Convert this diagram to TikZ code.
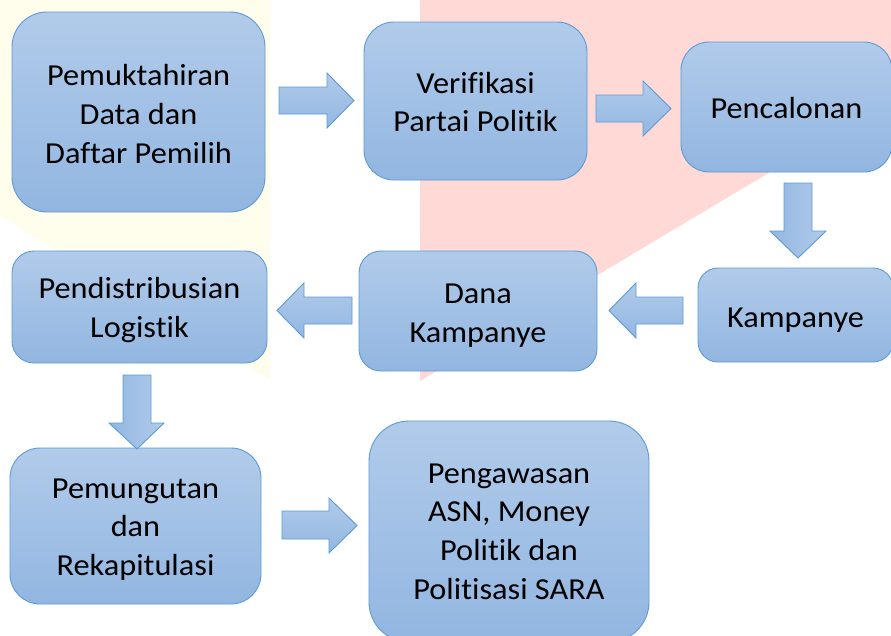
\documentclass[tikz,border=0pt]{standalone}
\usepackage{fontspec}
\setmainfont{Carlito}[Ligatures={NoCommon,NoContextual}, FakeStretch=1.06]
\definecolor{boxtop}{HTML}{B1CBEA}
\definecolor{boxbot}{HTML}{92B6E1}
\definecolor{boxline}{HTML}{5B9BD5}
\definecolor{bgyellow}{HTML}{FFFDEC}
\definecolor{bgpink}{HTML}{FFD9D5}
\newcommand\topstrut[1]{\rule{0pt}{#1}}
\begin{document}
\begin{tikzpicture}[x=1pt,y=-1pt,
  box/.style={draw=boxline, line width=0.9pt, rounded corners=#1,
    top color=boxtop, bottom color=boxbot, align=center, inner sep=0pt,
    font=\fontsize{30.5}{38.7}\selectfont},
  barrow/.style={draw=boxline, line width=0.9pt, top color=boxtop, bottom color=boxbot, line join=miter},
  darrow/.style={draw=boxline, line width=0.9pt, left color=boxbot, right color=boxtop, line join=miter}
  ]
\useasboundingbox (0,0) rectangle (891,635);
\clip (0,0) rectangle (891,635);
% background
\fill[bgyellow] (0,0) -- (270,0) -- (270,380) -- (0,216) -- cycle;
\fill[bgpink] (420,0) -- (891,0) -- (891,100) -- (420,381) -- cycle;
% boxes
\node[box=35pt, minimum width=253pt, minimum height=200pt] (b1) at (138.5,112) {\topstrut{25.2pt}Pemuktahiran\\Data dan\\Daftar Pemilih};
\node[box=30pt, minimum width=223pt, minimum height=158pt] (b2) at (475.5,101) {\topstrut{23.4pt}Verifikasi\\Partai Politik};
\node[box=28pt, minimum width=211pt, minimum height=130pt] (b3) at (786.5,107) {\topstrut{23.4pt}Pencalonan};
\node[box=20pt, minimum width=195pt, minimum height=94pt] (b4) at (795.5,315) {\topstrut{29.4pt}Kampanye};
\node[box=22pt, minimum width=238pt, minimum height=120pt] (b5) at (478,311) {\topstrut{29.4pt}Dana\\Kampanye};
\node[box=22pt, minimum width=255pt, minimum height=112pt] (b6) at (139.5,307) {\topstrut{27.2pt}Pendistribusian\\Logistik};
\node[box=30pt, minimum width=251pt, minimum height=156pt] (b7) at (135.5,526) {\topstrut{26.8pt}Pemungutan\\dan\\Rekapitulasi};
\node[box=40pt, minimum width=280pt, minimum height=221pt] (b8) at (509,531.5) {Pengawasan\\ASN, Money\\Politik dan\\Politisasi SARA};
% block arrows
\path[barrow] (279,87) -- (327,87) -- (327,73) -- (354,100.5) -- (327,128) -- (327,114) -- (279,114) -- cycle;
\path[barrow] (596,95) -- (643,95) -- (643,81) -- (671,108.5) -- (643,136) -- (643,122) -- (596,122) -- cycle;
\path[darrow] (784,183) -- (812,183) -- (812,231) -- (826,231) -- (798,258) -- (770,231) -- (784,231) -- cycle;
\path[barrow] (683,297) -- (636,297) -- (636,283) -- (609,310.5) -- (636,338) -- (636,324) -- (683,324) -- cycle;
\path[barrow] (352,297) -- (304,297) -- (304,283) -- (277,310.5) -- (304,338) -- (304,324) -- (352,324) -- cycle;
\path[darrow] (123,375) -- (151,375) -- (151,423) -- (164,423) -- (137,449) -- (109,423) -- (123,423) -- cycle;
\path[barrow] (282,511) -- (329,511) -- (329,498) -- (357,525.5) -- (329,553) -- (329,539) -- (282,539) -- cycle;
\end{tikzpicture}
\end{document}
